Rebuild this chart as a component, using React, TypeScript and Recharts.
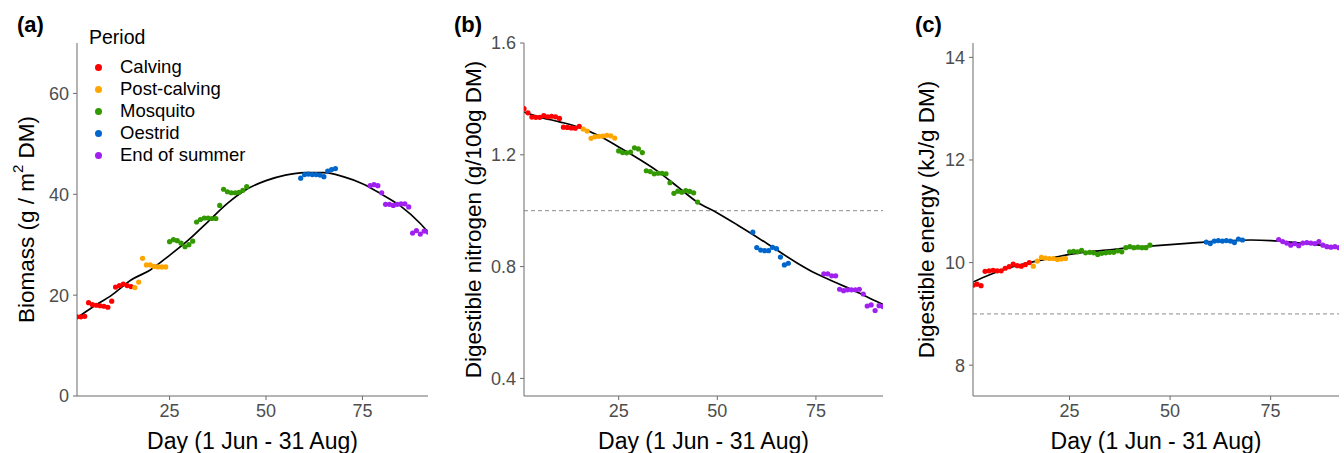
import { ComposedChart, Line, ReferenceLine, Scatter, XAxis, YAxis } from "recharts";

const FONT = "Arial, 'Liberation Sans', sans-serif";

const periods = ["Calving", "Post-calving", "Mosquito", "Oestrid", "End of summer"];
const periodColors = ["#FF0000", "#FFA500", "#339900", "#0066CC", "#A020F0"];

// days of each sampling period (1 = 1 Jun)
const calvingDays = [1, 2, 3, 4, 5, 6, 7, 8, 9, 10, 11, 12, 13, 14, 15];
const postCalvingDays = [16, 17, 18, 19, 20, 21, 22, 23, 24];
const mosquitoDays = [25, 26, 27, 28, 29, 30, 31, 32, 33, 34, 35, 36, 37, 38, 39, 40, 41, 42, 43, 44, 45];
const oestridDays = [59, 60, 61, 62, 63, 64, 65, 66, 67, 68];
const endSummerDays = [77, 78, 79, 80, 81, 82, 83, 84, 85, 86, 87, 88, 89, 90, 91, 92];
const periodDays = [calvingDays, postCalvingDays, mosquitoDays, oestridDays, endSummerDays];

// (a) biomass
const biomassCalving = [15.7, 15.7, 15.8, 18.5, 18.1, 18.0, 17.9, 17.8, 17.6, 18.8, 21.6, 21.9, 22.2, 21.9, 21.7];
const biomassPostCalving = [21.5, 22.6, 27.3, 26.0, 26.0, 25.7, 25.6, 25.6, 25.6];
const biomassMosquito = [30.6, 31.0, 30.8, 30.3, 29.6, 30.0, 30.7, 34.5, 35.0, 35.3, 35.3, 35.2, 35.2, 37.8, 41.0, 40.5, 40.3, 40.3, 40.4, 40.8, 41.5];
const biomassOestrid = [43.2, 43.9, 44.0, 43.9, 43.9, 43.8, 43.5, 44.6, 44.9, 45.1];
const biomassEndSummer = [41.7, 41.9, 41.7, 40.3, 38.0, 38.0, 37.8, 38.0, 38.1, 38.1, 37.5, 32.3, 32.8, 32.1, 32.7, 32.5];

// (b) digestible nitrogen
const nitrogenCalving = [1.365, 1.35, 1.335, 1.334, 1.334, 1.34, 1.336, 1.338, 1.336, 1.33, 1.299, 1.298, 1.296, 1.295, 1.302];
const nitrogenPostCalving = [1.292, 1.285, 1.259, 1.265, 1.266, 1.267, 1.27, 1.268, 1.26];
const nitrogenMosquito = [1.214, 1.208, 1.207, 1.21, 1.225, 1.221, 1.208, 1.143, 1.14, 1.132, 1.134, 1.134, 1.132, 1.1, 1.062, 1.07, 1.066, 1.072, 1.069, 1.064, 1.031];
const nitrogenOestrid = [0.923, 0.868, 0.859, 0.857, 0.857, 0.869, 0.864, 0.834, 0.806, 0.812];
const nitrogenEndSummer = [0.774, 0.774, 0.767, 0.767, 0.719, 0.714, 0.717, 0.717, 0.717, 0.719, 0.702, 0.659, 0.663, 0.643, 0.66, 0.657];

// (c) digestible energy
const energyCalving = [9.56, 9.58, 9.55, 9.83, 9.84, 9.85, 9.84, 9.84, 9.89, 9.92, 9.97, 9.94, 9.93, 9.96, 10.0];
const energyPostCalving = [9.93, 10.03, 10.1, 10.09, 10.08, 10.08, 10.06, 10.07, 10.08];
const energyMosquito = [10.21, 10.22, 10.21, 10.24, 10.19, 10.2, 10.19, 10.16, 10.18, 10.19, 10.2, 10.2, 10.23, 10.21, 10.29, 10.31, 10.29, 10.3, 10.29, 10.29, 10.34];
const energyOestrid = [10.4, 10.37, 10.42, 10.43, 10.42, 10.43, 10.42, 10.39, 10.46, 10.44];
const energyEndSummer = [10.45, 10.41, 10.38, 10.34, 10.37, 10.33, 10.38, 10.39, 10.38, 10.37, 10.41, 10.34, 10.31, 10.3, 10.31, 10.29];

// fitted smooth curves
const fitDays = [1, 5, 10, 15, 20, 25, 30, 35, 40, 45, 50, 55, 60, 65, 70, 75, 80, 85, 90, 92];
const biomassFit = [15.5, 17.6, 20.0, 23.0, 25.0, 27.9, 31.0, 34.6, 38.2, 41.0, 42.7, 43.8, 44.3, 44.3, 43.5, 42.1, 40.0, 37.6, 34.2, 32.5];
const nitrogenFit = [1.353, 1.335, 1.318, 1.298, 1.268, 1.228, 1.186, 1.14, 1.085, 1.03, 0.992, 0.95, 0.906, 0.86, 0.815, 0.775, 0.743, 0.712, 0.678, 0.665];
const energyFit = [9.62, 9.76, 9.9, 10.0, 10.08, 10.16, 10.21, 10.25, 10.29, 10.32, 10.35, 10.38, 10.41, 10.43, 10.44, 10.43, 10.4, 10.36, 10.32, 10.3];

const xTicks = [25, 50, 75];
const biomassTicks = [0, 20, 40, 60];
const nitrogenTicks = [0.4, 0.8, 1.2, 1.6];
const energyTicks = [8, 10, 12, 14];

const toRows = (days: number[], values: number[]) => days.map((day, i) => ({ day, value: values[i] }));

interface PanelProps {
  left: number;
  width: number;
  plotLeft: number;
  plotRight: number;
  yDomain: [number, number];
  yTicks: number[];
  values: number[][];
  fit: number[];
  refY?: number;
  yTitle: React.ReactNode;
  yTitleX: number;
  tag: string;
  tagX: number;
}

function Dot(color: string) {
  return (props: any) => <circle cx={props.cx} cy={props.cy} r={2.6} fill={color} />;
}

function Panel({ left, width, plotLeft, plotRight, yDomain, yTicks, values, fit, refY, yTitle, yTitleX, tag, tagX }: PanelProps) {
  const axisColor = "#6b6b6b";
  const tick = { fill: "#4D4D4D", fontSize: 18, fontFamily: FONT };
  return (
    <div style={{ position: "absolute", left, top: 0, width, height: 453 }}>
      <div style={{ position: "absolute", left: tagX, top: 12, fontSize: 22, fontWeight: 700, fontFamily: FONT, color: "#000" }}>
        {tag}
      </div>
      <ComposedChart width={width} height={453} margin={{ top: 43, right: width - plotRight, bottom: 0, left: 0 }}>
        <XAxis
          type="number"
          dataKey="day"
          domain={[1, 92]}
          ticks={xTicks}
          allowDataOverflow
          height={57}
          tickSize={4}
          tickMargin={4}
          stroke={axisColor}
          tick={tick}
          label={(p: any) => (
            <text
              x={p.viewBox.x + p.viewBox.width / 2}
              y={449}
              textAnchor="middle"
              fontSize={23}
              fontFamily={FONT}
              fill="#000"
            >
              Day (1 Jun - 31 Aug)
            </text>
          )}
        />
        <YAxis
          type="number"
          dataKey="value"
          domain={yDomain}
          ticks={yTicks}
          allowDataOverflow
          width={plotLeft}
          tickSize={4}
          tickMargin={4}
          stroke={axisColor}
          tick={tick}
          label={(p: any) => {
            const cy = p.viewBox.y + p.viewBox.height / 2;
            return (
              <text
                x={yTitleX}
                y={cy}
                transform={`rotate(-90, ${yTitleX}, ${cy})`}
                textAnchor="middle"
                dominantBaseline="central"
                fontSize={22.5}
                fontFamily={FONT}
                fill="#000"
              >
                {yTitle}
              </text>
            );
          }}
        />
        {refY !== undefined && (
          <ReferenceLine y={refY} stroke="#8c8c8c" strokeDasharray="4 3" strokeWidth={1} />
        )}
        {periods.map((name, i) => (
          <Scatter
            key={name}
            name={name}
            data={toRows(periodDays[i], values[i])}
            dataKey="value"
            fill={periodColors[i]}
            shape={Dot(periodColors[i])}
            isAnimationActive={false}
          />
        ))}
        <Line
          data={toRows(fitDays, fit)}
          dataKey="value"
          type="monotone"
          stroke="#000"
          strokeWidth={1.7}
          dot={false}
          activeDot={false}
          legendType="none"
          isAnimationActive={false}
        />
      </ComposedChart>
    </div>
  );
}

function PeriodLegend() {
  return (
    <div style={{ position: "absolute", left: 89, top: 25, fontFamily: FONT, color: "#000" }}>
      <div style={{ fontSize: 19.5, lineHeight: "24px", marginBottom: 7 }}>Period</div>
      {periods.map((name, i) => (
        <div key={name} style={{ display: "flex", alignItems: "center", height: 22 }}>
          <span
            style={{
              display: "inline-block",
              width: 7,
              height: 7,
              borderRadius: "50%",
              background: periodColors[i],
              marginLeft: 6,
              marginRight: 18
            }}
          />
          <span style={{ fontSize: 18.5 }}>{name}</span>
        </div>
      ))}
    </div>
  );
}

export default function App() {
  return (
    <div style={{ position: "absolute", left: 0, top: 0, width: 1344, height: 453, background: "#fff", overflow: "hidden" }}>
      <Panel
        left={0}
        width={445}
        plotLeft={77}
        plotRight={428}
        yDomain={[0, 70]}
        yTicks={biomassTicks}
        values={[biomassCalving, biomassPostCalving, biomassMosquito, biomassOestrid, biomassEndSummer]}
        fit={biomassFit}
        yTitle={
          <>
            Biomass (g / m<tspan dy={-9} fontSize={15}>2</tspan>
            <tspan dy={9}> DM)</tspan>
          </>
        }
        yTitleX={26}
        tag="(a)"
        tagX={17}
      />
      <PeriodLegend />
      <Panel
        left={450}
        width={445}
        plotLeft={74}
        plotRight={433}
        yDomain={[0.337, 1.6]}
        yTicks={nitrogenTicks}
        values={[nitrogenCalving, nitrogenPostCalving, nitrogenMosquito, nitrogenOestrid, nitrogenEndSummer]}
        fit={nitrogenFit}
        refY={1.0}
        yTitle="Digestible nitrogen (g/100g DM)"
        yTitleX={23}
        tag="(b)"
        tagX={4}
      />
      <Panel
        left={900}
        width={444}
        plotLeft={73}
        plotRight={439}
        yDomain={[7.4, 14.28]}
        yTicks={energyTicks}
        values={[energyCalving, energyPostCalving, energyMosquito, energyOestrid, energyEndSummer]}
        fit={energyFit}
        refY={9.0}
        yTitle="Digestible energy (kJ/g DM)"
        yTitleX={26}
        tag="(c)"
        tagX={15}
      />
    </div>
  );
}
